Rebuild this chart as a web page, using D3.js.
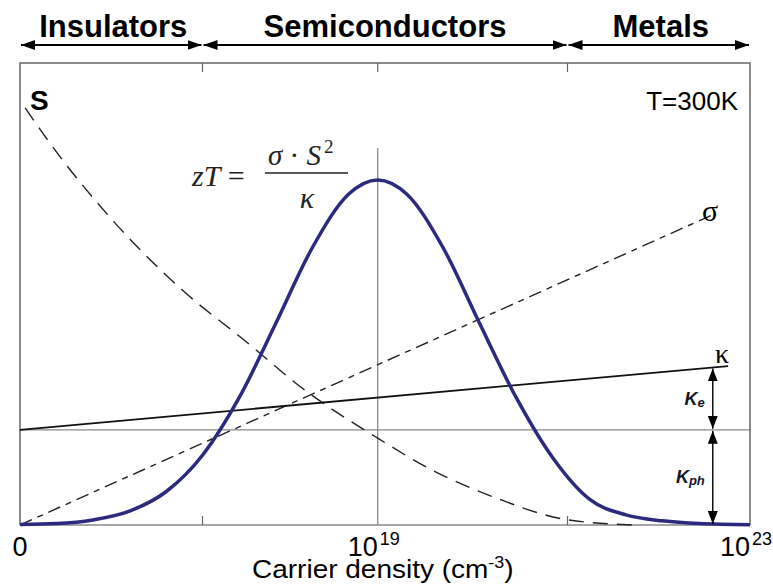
<!DOCTYPE html>
<html>
<head>
<meta charset="utf-8">
<script src="https://cdn.jsdelivr.net/npm/d3@7"></script>
<style>
  body { margin: 0; background: #fff; }
  svg text { font-family: "Liberation Sans", Arial, sans-serif; }
  .serif { font-family: "Liberation Serif", "Times New Roman", serif !important; }
</style>
</head>
<body>
<div id="viz"></div>
<script>
// regions along the density axis (x in 0..100 schematic units)
var regions = ["Insulators", "Semiconductors", "Metals"];
var regionBounds = [0, 25, 75, 100];

// tick labels at bottom
var tickPos = [0, 49, 100];
var tickBase = ["0", "10", "10"];
var tickSup = ["", "19", "23"];

// zT curve
var ztX = [0, 5, 10, 15, 20, 25, 30, 35, 40, 45, 49, 53, 58, 63, 68, 73, 78, 83, 88, 93, 100];
var ztY = [0.1, 0.3, 1.1, 3.0, 7.2, 15.1, 27.5, 43.5, 59.9, 71.6, 74.7, 71.6, 59.9, 43.5, 27.5, 14.5, 5.6, 2.2, 0.9, 0.3, 0.05];

// Seebeck coefficient S (dashed)
var sX = [0.7, 3.8, 13, 22.2, 31.2, 38.1, 49, 56.2, 65.3, 74.4, 84];
var sY = [90.3, 83.3, 65.4, 50.9, 39.4, 30.3, 18.8, 12.1, 5.8, 1.3, 0];

// conductivity sigma (dash-dot)
var sigmaX = [0, 94.8];
var sigmaY = [0, 67.1];

// thermal conductivity kappa
var kappaX = [0, 97];
var kappaY = [20.6, 34.4];
var kappaPh = 20.6;   // lattice part
var splitX = 94.9;    // where Ke / Kph arrows sit

var width = 773, height = 586;
var plotL = 20, plotR = 750, plotT = 63, plotB = 525;

var svg = d3.select("#viz").append("svg")
  .attr("width", width)
  .attr("height", height);

var x = d3.scaleLinear().domain([0, 100]).range([plotL, plotR]);
var y = d3.scaleLinear().domain([0, 100]).range([plotB, plotT]);

// arrow heads
var defs = svg.append("defs");
defs.append("marker")
  .attr("id", "head")
  .attr("viewBox", "0 0 14 10")
  .attr("refX", 14).attr("refY", 5)
  .attr("markerWidth", 14).attr("markerHeight", 10)
  .attr("markerUnits", "userSpaceOnUse")
  .attr("orient", "auto-start-reverse")
  .append("path").attr("d", "M0,0L14,5L0,10Z").attr("fill", "#000");
defs.append("marker")
  .attr("id", "vhead")
  .attr("viewBox", "0 0 13 10")
  .attr("refX", 13).attr("refY", 5)
  .attr("markerWidth", 13).attr("markerHeight", 10)
  .attr("markerUnits", "userSpaceOnUse")
  .attr("orient", "auto-start-reverse")
  .append("path").attr("d", "M0,0L13,5L0,10Z").attr("fill", "#000");

// region arrows + labels on top
regions.forEach(function(r, i) {
  svg.append("line")
    .attr("x1", x(regionBounds[i]) + 1).attr("x2", x(regionBounds[i + 1]) - 1)
    .attr("y1", 45).attr("y2", 45)
    .attr("stroke", "#000").attr("stroke-width", 2)
    .attr("marker-start", "url(#head)")
    .attr("marker-end", "url(#head)");
  svg.append("text")
    .attr("x", (x(regionBounds[i]) + x(regionBounds[i + 1])) / 2 + (i == 1 ? 0 : 2))
    .attr("y", 37)
    .attr("text-anchor", "middle")
    .attr("font-size", 31).attr("font-weight", "bold")
    .text(r);
});

// reference lines
svg.append("line")
  .attr("x1", x(0)).attr("x2", x(100))
  .attr("y1", y(kappaPh)).attr("y2", y(kappaPh))
  .attr("stroke", "#8a8a8a").attr("stroke-width", 1.3);
svg.append("line")
  .attr("x1", x(tickPos[1])).attr("x2", x(tickPos[1]))
  .attr("y1", 148).attr("y2", plotB)
  .attr("stroke", "#8a8a8a").attr("stroke-width", 1.3);

// frame
svg.append("path")
  .attr("d", "M" + x(0) + "," + y(0) + "V" + y(100) + "H" + x(100) + "V" + y(0))
  .attr("fill", "none").attr("stroke", "#666").attr("stroke-width", 1.5);
svg.append("line")
  .attr("x1", x(0)).attr("x2", x(100))
  .attr("y1", y(0)).attr("y2", y(0))
  .attr("stroke", "#888").attr("stroke-width", 1.5);

// ticks top & bottom
[25, 75].forEach(function(t) {
  svg.append("line").attr("x1", x(t)).attr("x2", x(t)).attr("y1", plotT).attr("y2", plotT + 9)
    .attr("stroke", "#666").attr("stroke-width", 1.2);
  svg.append("line").attr("x1", x(t)).attr("x2", x(t)).attr("y1", plotB).attr("y2", plotB - 9)
    .attr("stroke", "#666").attr("stroke-width", 1.2);
});
svg.append("line").attr("x1", x(tickPos[1])).attr("x2", x(tickPos[1])).attr("y1", plotT).attr("y2", plotT + 9)
  .attr("stroke", "#666").attr("stroke-width", 1.2);

var line = d3.line()
  .x(function(d) { return x(d[0]); })
  .y(function(d) { return y(d[1]); });

// sigma
svg.append("path")
  .datum(d3.zip(sigmaX, sigmaY))
  .attr("d", line)
  .attr("fill", "none").attr("stroke", "#222").attr("stroke-width", 1.4)
  .attr("stroke-dasharray", "13,6,6,6");

// S
svg.append("path")
  .datum(d3.zip(sX, sY))
  .attr("d", line.curve(d3.curveMonotoneX))
  .attr("fill", "none").attr("stroke", "#222").attr("stroke-width", 1.4)
  .attr("stroke-dasharray", "15,9");

// kappa
svg.append("path")
  .datum(d3.zip(kappaX, kappaY))
  .attr("d", line.curve(d3.curveLinear))
  .attr("fill", "none").attr("stroke", "#111").attr("stroke-width", 1.8);

// zT
svg.append("path")
  .datum(d3.zip(ztX, ztY))
  .attr("d", line.curve(d3.curveMonotoneX))
  .attr("fill", "none").attr("stroke", "#2b2a7e").attr("stroke-width", 3.5);

// Ke / Kph arrows
var kAtSplit = kappaY[0] + (kappaY[1] - kappaY[0]) * splitX / kappaX[1];
svg.append("line")
  .attr("x1", x(splitX)).attr("x2", x(splitX))
  .attr("y1", y(kAtSplit) + 1).attr("y2", y(kappaPh) - 1)
  .attr("stroke", "#000").attr("stroke-width", 1.4)
  .attr("marker-start", "url(#vhead)").attr("marker-end", "url(#vhead)");
svg.append("line")
  .attr("x1", x(splitX)).attr("x2", x(splitX))
  .attr("y1", y(kappaPh) + 1).attr("y2", y(0) - 1)
  .attr("stroke", "#000").attr("stroke-width", 1.4)
  .attr("marker-start", "url(#vhead)").attr("marker-end", "url(#vhead)");

var ke = svg.append("text")
  .attr("x", x(splitX) - 8).attr("y", (y(kAtSplit) + y(kappaPh)) / 2 + 6)
  .attr("text-anchor", "end")
  .attr("font-size", 18).attr("font-weight", "bold").attr("font-style", "italic")
  .attr("fill", "#15152a");
ke.append("tspan").text("K");
ke.append("tspan").attr("font-size", 13).attr("dy", 2).text("e");
var kph = svg.append("text")
  .attr("x", x(splitX) - 8).attr("y", (y(kappaPh) + y(0)) / 2 + 6)
  .attr("text-anchor", "end")
  .attr("font-size", 18).attr("font-weight", "bold").attr("font-style", "italic")
  .attr("fill", "#15152a");
kph.append("tspan").text("K");
kph.append("tspan").attr("font-size", 13).attr("dy", 2).text("ph");

// curve labels
svg.append("text").attr("x", 30).attr("y", 110)
  .attr("font-size", 28).attr("font-weight", "bold").text("S");
svg.append("text").attr("x", 738).attr("y", 110).attr("text-anchor", "end")
  .attr("font-size", 26).text("T=300K");
svg.append("text").attr("class", "serif")
  .attr("x", x(sigmaX[1]) - 2).attr("y", y(sigmaY[1]) + 6).attr("text-anchor", "middle")
  .attr("font-size", 30).text("σ");
svg.append("text").attr("class", "serif")
  .attr("x", x(kappaX[1]) - 6).attr("y", y(kappaY[1]) - 3).attr("text-anchor", "middle")
  .attr("font-size", 28).text("κ");

// formula
var f = svg.append("g").attr("class", "formula");
var lhs = f.append("text").attr("class", "serif")
  .attr("x", 192).attr("y", 186).attr("font-size", 30).attr("fill", "#222");
lhs.append("tspan").attr("font-style", "italic").text("zT");
lhs.append("tspan").text(" =");
f.append("line").attr("x1", 265).attr("x2", 348).attr("y1", 173).attr("y2", 173)
  .attr("stroke", "#222").attr("stroke-width", 1.5);
var num = f.append("text").attr("class", "serif")
  .attr("x", 268).attr("y", 165).attr("font-size", 29).attr("fill", "#222");
num.append("tspan").attr("font-style", "italic").text("σ");
num.append("tspan").text(" · ");
num.append("tspan").attr("font-style", "italic").text("S");
num.append("tspan").attr("font-size", 19).attr("dy", -12).attr("dx", 3).text("2");
f.append("text").attr("class", "serif")
  .attr("x", 307).attr("y", 208).attr("text-anchor", "middle")
  .attr("font-size", 30).attr("font-style", "italic").attr("fill", "#222").text("κ");

// bottom tick labels
tickPos.forEach(function(p, i) {
  var t = svg.append("text")
    .attr("x", x(p) + (i == 0 ? 0 : 0))
    .attr("y", 556)
    .attr("text-anchor", i == 0 ? "middle" : "end")
    .attr("font-size", 27);
  t.text(tickBase[i]);
  if (tickSup[i]) {
    svg.append("text")
      .attr("x", x(p) + 2).attr("y", 545)
      .attr("font-size", 18)
      .text(tickSup[i]);
  }
});

var xl = svg.append("text")
  .attr("transform", "translate(" + x(49.7) + ",578) scale(1.12,1)")
  .attr("text-anchor", "middle").attr("font-size", 25);
xl.append("tspan").text("Carrier density (cm");
xl.append("tspan").attr("font-size", 16).attr("dy", -10).text("-3");
xl.append("tspan").attr("dy", 10).text(")");
</script>
</body>
</html>
